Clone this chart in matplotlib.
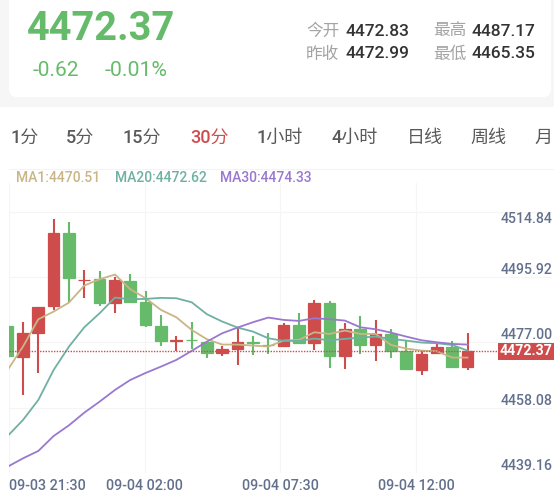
import matplotlib
matplotlib.use('Agg')
import matplotlib.pyplot as plt
from matplotlib.patches import FancyBboxPatch, Rectangle

plt.rcParams['font.family'] = ['Roboto', 'Noto Sans CJK SC', 'DejaVu Sans']

# candle values
opens = [4481.87, 4472.90, 4479.85, 4487.56, 4508.58, 4494.99, 4495.37, 4488.53, 4494.89, 4488.62,
         4481.78, 4477.44, 4477.82, 4477.24, 4473.97, 4475.03, 4477.05, 4476.38, 4475.99, 4482.16,
         4476.76, 4488.53, 4473.10, 4480.81, 4476.18, 4479.46, 4474.45, 4469.14, 4473.87, 4475.70,
         4469.92]
closes = [4473.10, 4479.66, 4487.37, 4508.58, 4495.57, 4495.18, 4488.33, 4494.99, 4488.82, 4481.97,
          4477.34, 4477.63, 4477.63, 4473.97, 4475.03, 4477.05, 4476.86, 4476.18, 4482.16, 4476.76,
          4488.53, 4473.19, 4481.01, 4476.18, 4479.37, 4474.45, 4469.24, 4473.77, 4475.80, 4469.82,
          4474.45]
highs = [4481.87, 4482.84, 4487.37, 4512.83, 4511.77, 4497.88, 4497.59, 4495.86, 4496.72, 4491.81,
         4484.86, 4478.98, 4482.84, 4477.24, 4476.09, 4481.39, 4478.79, 4479.85, 4482.55, 4485.54,
         4489.30, 4489.11, 4482.55, 4484.67, 4483.51, 4480.81, 4477.53, 4474.64, 4476.76, 4477.34,
         4479.66]
lows = [4473.10, 4461.91, 4468.28, 4486.41, 4488.33, 4489.78, 4487.66, 4485.44, 4488.82, 4481.58,
        4476.09, 4474.54, 4475.12, 4472.62, 4473.10, 4470.59, 4473.48, 4473.77, 4475.70, 4476.47,
        4474.83, 4469.63, 4469.24, 4473.68, 4471.75, 4472.42, 4469.24, 4467.50, 4473.68, 4469.53,
        4468.95]

ma1 = [4469.05, 4475.80, 4483.71, 4485.92, 4488.53, 4493.45, 4495.28, 4496.63, 4492.38, 4489.78,
       4486.41, 4484.28, 4480.62, 4477.92, 4476.38, 4476.38, 4476.09, 4475.80, 4477.53, 4477.73,
       4479.94, 4479.46, 4480.43, 4479.46, 4479.46, 4476.28, 4475.22, 4474.64, 4474.45, 4472.62,
       4472.62]
ma20 = [4449.95, 4454.58, 4460.37, 4469.05, 4475.80, 4481.39, 4485.44, 4489.97, 4489.49, 4489.59,
        4489.88, 4489.78, 4488.62, 4485.15, 4483.03, 4481.30, 4480.14, 4478.21, 4477.44, 4477.44,
        4478.11, 4477.63, 4478.02, 4478.40, 4478.69, 4478.02, 4477.53, 4476.96, 4476.76, 4476.28,
        4474.64]
ma30 = [4441.08, 4443.49, 4445.62, 4449.95, 4453.04, 4456.70, 4459.89, 4463.26, 4466.15, 4468.18,
        4470.01, 4471.94, 4474.54, 4477.24, 4479.66, 4481.30, 4482.84, 4484.19, 4483.51, 4483.22,
        4483.99, 4483.71, 4483.32, 4481.39, 4480.81, 4479.85, 4478.69, 4477.63, 4477.05, 4476.57,
        4476.38]

y_ticks = [4514.84, 4495.92, 4477.00, 4458.08, 4439.16]
x_ticks = [0.087, 8.94, 17.78, 26.64]
x_labels = ['09-03 21:30', '09-04 02:00', '09-04 07:30', '09-04 12:00']
price_level = 4474.45
price_text = '4472.37'

tabs = ['1分', '5分', '15分', '30分', '1小时', '4小时', '日线', '周线', '月']
tab_x = [10, 66, 123, 190, 257, 331, 407, 470, 534]

RED = '#cf4c4c'
GREEN = '#66bb6a'
W, H = 554, 494


def px_text(x, y, s, **kw):
    # place text with pixel coordinates measured from the top left
    kw.setdefault('va', 'center')
    fig.text(x / W, 1 - y / H, s, **kw)


fig = plt.figure(figsize=(W / 100, H / 100), dpi=100, facecolor='white')

# header card
bg = fig.add_axes([0, 0, 1, 1], zorder=0)
bg.set_xlim(0, W)
bg.set_ylim(H, 0)
bg.axis('off')
bg.add_patch(Rectangle((0, 0), W, 107, facecolor='#f6f6f6', edgecolor='none'))
bg.add_patch(FancyBboxPatch((9, -40), 542, 137, boxstyle='round,pad=0,rounding_size=8',
                            facecolor='white', edgecolor='none'))
bg.plot([9, W], [169, 169], color='#f4f4f4', lw=0.8)

px_text(27, 29, '4472.37', color=GREEN, fontsize=28.6, fontweight='bold')
px_text(33, 71, '-0.62', color=GREEN, fontsize=15)
px_text(105, 71, '-0.01%', color=GREEN, fontsize=15.3)

for x, y, s in [(306, 31, '今开'), (306, 54, '昨收'), (433, 31, '最高'), (433, 54, '最低')]:
    px_text(x, y, s, color='#a3a3a3', fontsize=12)
for x, y, s in [(346, 31, '4472.83'), (346, 54, '4472.99'), (472, 31, '4487.17'), (472, 54, '4465.35')]:
    px_text(x, y, s, color='#333333', fontsize=12.5, fontweight='medium')

for x, s in zip(tab_x, tabs):
    px_text(x, 138, s, color=RED if s == '30分' else '#5a5a5a', fontsize=13, fontweight='medium')

px_text(16, 178, 'MA1:4470.51', color='#c9b586', fontsize=10, fontweight='medium')
px_text(115, 178, 'MA20:4472.62', color='#6fb0a3', fontsize=10, fontweight='medium')
px_text(220, 178, 'MA30:4474.33', color='#9a78cf', fontsize=10, fontweight='medium')

# chart
ax = fig.add_axes([9 / W, 1 - 473.3 / H, 543 / W, 290.3 / H], zorder=1)
ax.patch.set_alpha(0)
ax.set_xlim(0.087, 35.51)
ax.set_ylim(4439.16, 4523.1)
for s in ax.spines.values():
    s.set_visible(False)
ax.grid(True, color='#f5f5f5', lw=0.8)
ax.set_axisbelow(True)

for i in range(len(opens)):
    color = RED if closes[i] >= opens[i] else GREEN
    ax.vlines(i, lows[i], highs[i], color=color, lw=1.5, zorder=2)
    bottom = min(opens[i], closes[i])
    ax.bar(i, abs(closes[i] - opens[i]), bottom=bottom, width=0.76,
           color=color, edgecolor=color, linewidth=0.9, zorder=3)

xs = list(range(len(ma1)))
ax.plot(xs, ma1, color='#c9b586', lw=1.3, zorder=4)
ax.plot(xs, ma20, color='#6fb0a3', lw=1.3, zorder=4)
ax.plot(xs, ma30, color='#9a78cf', lw=1.3, zorder=4)

ax.plot([0.087, 32.2], [price_level, price_level], color=RED, lw=1.0, ls=(0, (1, 1)), zorder=5)

ax.yaxis.tick_right()
ax.set_yticks(y_ticks)
ax.set_yticklabels(['%.2f' % v for v in y_ticks])
ax.tick_params(axis='y', length=0, pad=-36.7, labelsize=10.2, labelcolor='#62708c')
for n, lab in enumerate(ax.get_yticklabels()):
    lab.set_va('top' if n == 0 else 'bottom')
    lab.set_fontweight('medium')

ax.set_xticks(x_ticks)
ax.set_xticklabels(x_labels)
ax.tick_params(axis='x', length=0, pad=4, labelsize=10.3, labelcolor='#62708c')
for lab in ax.get_xticklabels():
    lab.set_fontweight('medium')
ax.get_xticklabels()[0].set_ha('left')

# last price tag on the right
ax.annotate(price_text, xy=(1, price_level), xycoords=ax.get_yaxis_transform(),
            xytext=(-25.5, 0), textcoords='offset pixels', ha='center', va='center',
            color='white', fontsize=10.2, fontweight='bold', zorder=7,
            bbox=dict(boxstyle='square,pad=0.12', facecolor=RED, edgecolor='none'))

fig.savefig('out.png', dpi=100)
